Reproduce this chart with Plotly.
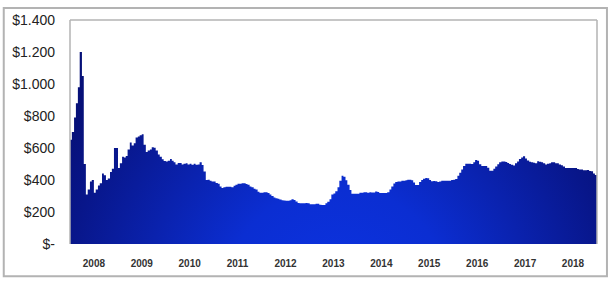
import base64
import pandas as pd
import plotly.graph_objects as go

# ---------------- data ----------------
years = [str(y) for y in range(2008, 2019)]
y_tick_values = [0, 200, 400, 600, 800, 1000, 1200, 1400]
y_tick_labels = ["$-", "$200", "$400", "$600", "$800", "$1.000", "$1.200", "$1.400"]

# semi-monthly values (1st / 15th of each month), Jan 2008 .. Dec 2018, plus end point
price = [
    652, 700, 790, 880, 980, 1200, 1050, 500, 310, 340,
    390, 400, 320, 340, 365, 380, 440, 430, 400, 410,
    450, 470, 600, 600, 475, 505, 545, 540, 550, 590,
    635, 615, 630, 665, 672, 680, 686, 620, 575, 585,
    590, 605, 601, 585, 560, 545, 530, 518, 515, 520,
    531, 521, 511, 497, 507, 507, 497, 501, 505, 497,
    501, 495, 501, 495, 497, 511, 493, 453, 400, 401,
    396, 390, 390, 381, 377, 360, 350, 354, 358, 358,
    358, 354, 364, 370, 377, 377, 380, 380, 375, 370,
    360, 354, 346, 340, 326, 320, 320, 323, 323, 318,
    310, 300, 290, 286, 283, 278, 274, 272, 270, 270,
    273, 280, 275, 265, 257, 254, 254, 254, 257, 255,
    248, 248, 248, 251, 251, 245, 244, 244, 254, 264,
    280, 310, 315, 330, 354, 395, 426, 420, 398, 370,
    337, 314, 314, 314, 314, 320, 320, 324, 324, 320,
    324, 322, 322, 328, 325, 319, 318, 318, 318, 324,
    340, 360, 378, 388, 390, 390, 396, 396, 398, 401,
    401, 398, 384, 368, 368, 388, 400, 408, 413, 411,
    400, 392, 394, 392, 387, 390, 396, 396, 396, 396,
    396, 400, 402, 406, 426, 446, 466, 488, 501, 501,
    501, 500, 511, 525, 521, 498, 487, 487, 487, 476,
    458, 458, 471, 484, 498, 511, 515, 515, 513, 506,
    500, 495, 491, 505, 515, 531, 541, 548, 535, 522,
    514, 511, 508, 505, 517, 514, 511, 505, 497, 501,
    505, 511, 511, 505, 505, 497, 492, 485, 475, 475,
    475, 475, 475, 475, 468, 465, 465, 461, 461, 463,
    457, 455, 441, 431,
    417,
]
dates = list(pd.date_range("2008-01-01", "2018-12-15", freq="SMS").strftime("%Y-%m-%d")) + ["2018-12-31"]
assert len(dates) == len(price), (len(dates), len(price))

# ---------------- layout constants ----------------
W, H = 609, 281
L, R, T, B = 68, 12, 14, 35
pw, ph = W - L - R, H - T - B

# radial gradient background (shown only below the curve)
svg = (
    f'<svg xmlns="http://www.w3.org/2000/svg" width="{pw}" height="{ph}" '
    f'viewBox="0 0 {pw} {ph}" preserveAspectRatio="none">'
    '<defs><radialGradient id="g" gradientUnits="userSpaceOnUse" cx="268" cy="285" r="320">'
    '<stop offset="0" stop-color="#0c33e2"/>'
    '<stop offset="0.35" stop-color="#0b2ed2"/>'
    '<stop offset="0.6" stop-color="#0a22ae"/>'
    '<stop offset="0.85" stop-color="#08168a"/>'
    '<stop offset="1" stop-color="#061078"/>'
    '</radialGradient></defs>'
    f'<rect width="{pw}" height="{ph}" fill="url(#g)"/></svg>'
)
src = "data:image/svg+xml;base64," + base64.b64encode(svg.encode()).decode()

top = [y_tick_values[-1]] * len(dates)

fig = go.Figure()
fig.add_trace(go.Scatter(x=dates, y=price, mode="lines",
                         line=dict(width=0, shape="hv"), hoverinfo="skip", showlegend=False))
fig.add_trace(go.Scatter(x=dates, y=top, mode="lines", fill="tonexty", fillcolor="white",
                         line=dict(width=0, shape="hv"), hoverinfo="skip", showlegend=False))

fig.add_layout_image(dict(source=src, xref="paper", yref="paper", x=0, y=1,
                          sizex=1, sizey=1, sizing="stretch", layer="below"))

gray = "#b3b3b3"
# plot-area border (top, left, right)
for x0, y0, x1, y1 in [(0, 1, 1, 1), (0, 0, 0, 1), (1, 0, 1, 1)]:
    fig.add_shape(type="line", xref="paper", yref="paper", x0=x0, y0=y0, x1=x1, y1=y1,
                  line=dict(color=gray, width=1.5), layer="above")
# outer chart border
ox0 = (1.5 - L) / pw
ox1 = (607 - L) / pw
oy1 = (ph + T - 1.5) / ph
oy0 = (ph + T - 279.5) / ph
fig.add_shape(type="rect", xref="paper", yref="paper", x0=ox0, y0=oy0, x1=ox1, y1=oy1,
              line=dict(color=gray, width=2), fillcolor="rgba(0,0,0,0)", layer="above")

fig.update_layout(
    width=W, height=H,
    margin=dict(l=L, r=R, t=T, b=B, pad=0),
    paper_bgcolor="white", plot_bgcolor="rgba(0,0,0,0)",
    font=dict(family="Liberation Sans, Arial, sans-serif", color="#262626"),
    xaxis=dict(type="date", range=[dates[0], dates[-1]],
               tickvals=[f"{y}-07-01" for y in years], ticktext=years,
               showgrid=False, zeroline=False, showline=False, ticks="",
               tickfont=dict(size=10, color="#333333", weight="bold"),
               ticklabelstandoff=12, fixedrange=True),
    yaxis=dict(range=[y_tick_values[0], y_tick_values[-1]],
               tickvals=y_tick_values, ticktext=y_tick_labels,
               showgrid=False, zeroline=False, showline=False, ticks="",
               tickfont=dict(size=14, color="#222222"),
               ticklabelstandoff=14, fixedrange=True),
)

fig.write_html("out.html")
